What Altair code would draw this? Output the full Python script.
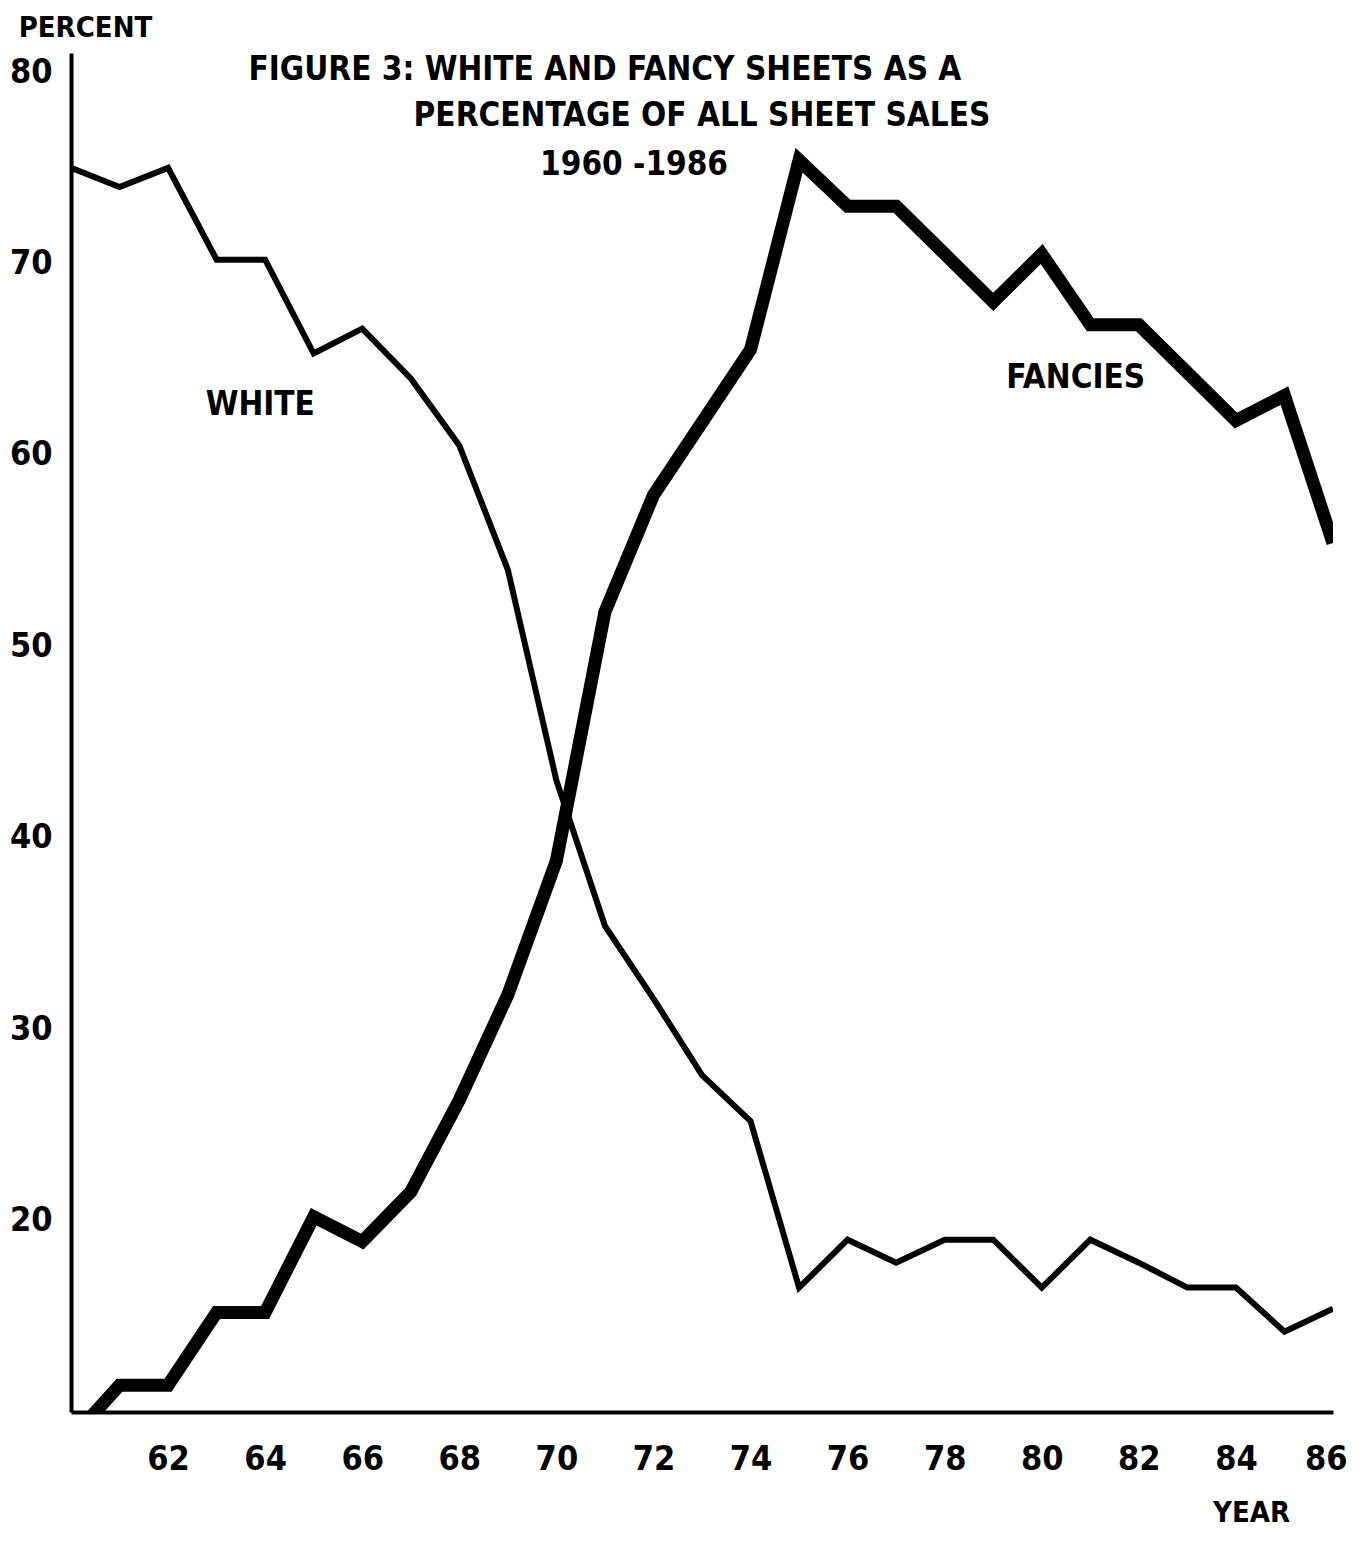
import altair as alt
import pandas as pd

years = list(range(1960, 1987))
year_short = [y - 1900 for y in years]

white = [75.0, 74.0, 75.0, 70.2, 70.2, 65.3, 66.6, 64.0, 60.5, 54.0, 43.0, 35.4,
         31.6, 27.6, 25.2, 16.5, 19.0, 17.8, 19.0, 19.0, 16.5, 19.0, 17.8, 16.5,
         16.5, 14.2, 15.4]
fancies = [8.6, 11.4, 11.4, 15.2, 15.2, 20.2, 18.9, 21.5, 26.3, 31.8, 38.8, 51.8,
           57.9, 61.7, 65.5, 75.4, 73.0, 73.0, 70.5, 68.0, 70.5, 66.8, 66.8, 64.3,
           61.8, 63.1, 55.4]

x_ticks = [62, 64, 66, 68, 70, 72, 74, 76, 78, 80, 82, 84, 86]
y_ticks = [20, 30, 40, 50, 60, 70, 80]

ann_text = ["FIGURE 3: WHITE AND FANCY SHEETS AS A",
            "PERCENTAGE OF ALL SHEET SALES",
            "1960 -1986",
            "WHITE",
            "FANCIES"]
ann_x = [71.0, 73.0, 71.6, 63.9, 80.7]
ann_y = [80.1, 77.7, 75.15, 62.6, 64.0]

FONT = "DejaVu Sans Condensed, Liberation Sans Narrow, sans-serif"

df = pd.DataFrame({
    "year": year_short * 2,
    "pct": white + fancies,
    "series": ["WHITE"] * len(years) + ["FANCIES"] * len(years),
})
ann = pd.DataFrame({"text": ann_text, "x": ann_x, "y": ann_y})

xscale = alt.Scale(domain=[60, 86], nice=False, zero=False)
yscale = alt.Scale(domain=[10, 81], nice=False, zero=False)

lines = alt.Chart(df).mark_line(color="black", clip=True, strokeJoin="miter").encode(
    x=alt.X("year:Q", scale=xscale,
            axis=alt.Axis(values=x_ticks, title="YEAR", titleX=1180, titleY=100,
                          titleAlign="center", titleBaseline="middle",
                          labelPadding=30, labelFlush=True, labelFlushOffset=14)),
    y=alt.Y("pct:Q", scale=yscale,
            axis=alt.Axis(values=y_ticks, title="PERCENT", titleAngle=0,
                          titleX=14, titleY=-26, titleAlign="center",
                          titleBaseline="middle", labelPadding=19)),
    size=alt.Size("series:N", scale=alt.Scale(domain=["WHITE", "FANCIES"], range=[6, 13]),
                  legend=None),
    detail="series:N",
)

texts = alt.Chart(ann).mark_text(
    font=FONT, fontSize=33, fontWeight="bold", color="black",
    align="center", baseline="middle"
).encode(
    x=alt.X("x:Q", scale=xscale),
    y=alt.Y("y:Q", scale=yscale),
    text="text:N",
)

chart = alt.layer(lines, texts).properties(
    width=1262, height=1359,
    autosize=alt.AutoSizeParams(type="none"),
    padding={"left": 63, "top": 45, "right": 20, "bottom": 124},
).configure_view(strokeWidth=0).configure_axis(
    domainColor="black", domainWidth=4, ticks=False, grid=False,
    labelColor="black", labelFont=FONT, labelFontSize=34, labelFontWeight="bold",
    titleColor="black", titleFont=FONT, titleFontSize=29, titleFontWeight="bold",
)

chart.save("out.html", embed_options={"renderer": "svg", "actions": False})
